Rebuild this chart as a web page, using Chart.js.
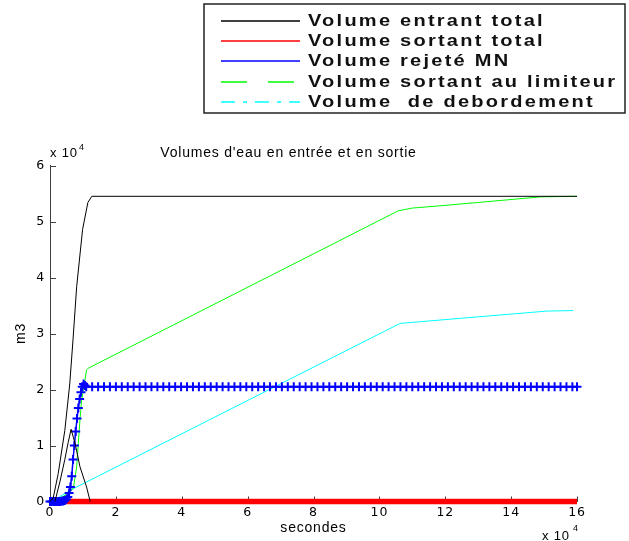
<!DOCTYPE html>
<html>
<head>
<meta charset="utf-8">
<script src="https://cdn.jsdelivr.net/npm/chart.js@4"></script>
<style>
  html, body { margin: 0; padding: 0; background: #fff; }
  #wrap { position: relative; width: 629px; height: 541px; }
</style>
</head>
<body>
<div id="wrap"><canvas id="chart"></canvas></div>
<script>
// Series names, as in the legend
const series_names = ['Volume entrant total', 'Volume sortant total', 'Volume rejeté MN',
    'Volume sortant au limiteur', 'Volume  de debordement'];
const series_colors = ['#000000', '#ff0000', '#0000ff', '#00ff00', '#00ffff'];

// Volume entrant total (cumulative) + the inflow hump drawn in black as well
const t_entrant = [0, 1000, 2500, 4500, 6000, 7000, 8100, 9900, 11500, 12700, 160000];
const v_entrant = [0, 700, 5000, 12700, 21000, 29000, 38400, 48600, 53400, 54500, 54500];
const t_hump = [1500, 3000, 4500, 5500, 6400, 7600, 9100, 11100, 12200];
const v_hump = [0, 3500, 7500, 10500, 12900, 10400, 6200, 2600, 0];

// Volume sortant total
const t_sortant = [0, 160000];
const v_sortant = [0, 0];

// Volume rejeté MN (one '+' per time step)
const t_rejet = [0, 500, 1000, 1500, 2000, 2500, 3000, 3500, 4000, 4500, 5000, 5400, 5800, 6200, 6600,
    7000, 7400, 7800, 8200, 8600, 9000, 9400, 9800, 10200, 10600, 11000,
    12800, 14600, 16400, 18200, 20000, 21800, 23600, 25400, 27200, 29000, 30800, 32600, 34400, 36200,
    38000, 39800, 41600, 43400, 45200, 47000, 48800, 50600, 52400, 54200, 56000, 57800, 59600, 61400,
    63200, 65000, 66800, 68600, 70400, 72200, 74000, 75800, 77600, 79400, 81200, 83000, 84800, 86600,
    88400, 90200, 92000, 93800, 95600, 97400, 99200, 101000, 102800, 104600, 106400, 108200, 110000,
    111800, 113600, 115400, 117200, 119000, 120800, 122600, 124400, 126200, 128000, 129800, 131600,
    133400, 135200, 137000, 138800, 140600, 142400, 144200, 146000, 147800, 149600, 151400, 153200,
    155000, 156800, 158600, 160000];
const v_rejet = [0, 0, 0, 0, 0, 0, 0, 50, 100, 200, 400, 800, 1500, 2600, 4500,
    7500, 10000, 12500, 14800, 16700, 18300, 19500, 20500, 21000, 20700, 20500,
    20500, 20500, 20500, 20500, 20500, 20500, 20500, 20500, 20500, 20500, 20500, 20500, 20500, 20500,
    20500, 20500, 20500, 20500, 20500, 20500, 20500, 20500, 20500, 20500, 20500, 20500, 20500, 20500,
    20500, 20500, 20500, 20500, 20500, 20500, 20500, 20500, 20500, 20500, 20500, 20500, 20500, 20500,
    20500, 20500, 20500, 20500, 20500, 20500, 20500, 20500, 20500, 20500, 20500, 20500, 20500,
    20500, 20500, 20500, 20500, 20500, 20500, 20500, 20500, 20500, 20500, 20500, 20500,
    20500, 20500, 20500, 20500, 20500, 20500, 20500, 20500, 20500, 20500, 20500, 20500,
    20500, 20500, 20500, 20500];

// Volume sortant au limiteur
const t_limiteur = [0, 1500, 4000, 6100, 7100, 8100, 8600, 9100, 9600, 10600, 11100, 11600,
    105700, 110000, 118400, 130000, 149000, 160000];
const v_limiteur = [0, 300, 900, 1750, 2400, 6200, 10400, 14600, 18100, 21700, 23500, 23800,
    51900, 52400, 52800, 53400, 54400, 54500];

// Volume de debordement
const t_debord = [0, 2000, 6100, 100200, 106300, 112300, 130500, 150800, 158900];
const v_debord = [0, 500, 2000, 30000, 31800, 32100, 33000, 34000, 34100];

// Axis ticks (values in m3 / seconds, shown as x 10^4)
const x_ticks = [0, 20000, 40000, 60000, 80000, 100000, 120000, 140000, 160000];
const y_ticks = [0, 10000, 20000, 30000, 40000, 50000, 60000];

const axis_color = '#404040';
const legend_dash = [[], [], [], [26, 21], [14, 8, 4, 8]];

function to_points(xs, ys) {
    return xs.map((x, i) => ({ x: x, y: ys[i] }));
}

function line_set(label, xs, ys, color, width, order) {
    return { label: label, data: to_points(xs, ys), borderColor: color, backgroundColor: color,
        borderWidth: width, pointRadius: 0, tension: 0, order: order, clip: false };
}

// MATLAB-like wide text
const spacing_plugin = {
    id: 'spacing',
    beforeLayout(chart) { chart.ctx.letterSpacing = '0.8px'; },
    beforeDraw(chart) { chart.ctx.letterSpacing = '0.8px'; }
};

// Ticks pointing into the plot
const inward_ticks = {
    id: 'inwardTicks',
    beforeDatasetsDraw(chart) {
        const { ctx, chartArea, scales: { x, y } } = chart;
        ctx.save();
        ctx.strokeStyle = axis_color;
        ctx.lineWidth = 1;
        ctx.beginPath();
        x.ticks.forEach(t => {
            const px = Math.round(x.getPixelForValue(t.value)) + 0.5;
            ctx.moveTo(px, chartArea.bottom);
            ctx.lineTo(px, chartArea.bottom - 5);
        });
        y.ticks.forEach(t => {
            const py = Math.round(y.getPixelForValue(t.value)) + 0.5;
            ctx.moveTo(chartArea.left, py);
            ctx.lineTo(chartArea.left + 6, py);
        });
        ctx.stroke();
        ctx.restore();
    }
};

// Boxed legend at the top right and the "x 10^4" multipliers
const legend_box = {
    id: 'legendBox',
    afterDraw(chart) {
        const { ctx, chartArea } = chart;
        ctx.save();
        ctx.strokeStyle = '#222';
        ctx.lineWidth = 1.5;
        ctx.strokeRect(204, 4, 421, 109);
        ctx.font = 'bold 16px Arial';
        ctx.letterSpacing = '1.8px';
        ctx.textBaseline = 'middle';
        ctx.textAlign = 'left';
        series_names.forEach((name, i) => {
            const yy = Math.round(20.5 + i * 20.4);
            ctx.strokeStyle = series_colors[i];
            ctx.lineWidth = 1.6;
            ctx.setLineDash(legend_dash[i]);
            ctx.beginPath();
            ctx.moveTo(221, yy);
            ctx.lineTo(300, yy);
            ctx.stroke();
            ctx.save();
            ctx.translate(308, yy + 0.5);
            ctx.scale(1.25, 1);
            ctx.fillStyle = '#111';
            ctx.fillText(name, 0, 0);
            ctx.restore();
        });
        ctx.setLineDash([]);
        ctx.fillStyle = '#000';
        ctx.letterSpacing = '0.8px';
        ctx.font = '13px Arial';
        ctx.fillText('x 10', chartArea.left, chartArea.top - 12);
        ctx.fillText('x 10', chartArea.right - 35, chartArea.bottom + 34.5);
        ctx.font = '9px Arial';
        ctx.fillText('4', chartArea.left + 29, chartArea.top - 18);
        ctx.fillText('4', chartArea.right - 4, chartArea.bottom + 27);
        ctx.restore();
    }
};

const datasets = [
    line_set(series_names[0], t_entrant, v_entrant, series_colors[0], 1, 0),
    line_set(series_names[1], t_sortant, v_sortant, series_colors[1], 5.5, 2),
    Object.assign(line_set(series_names[2], t_rejet, v_rejet, series_colors[2], 1.5, 1),
        { pointStyle: 'cross', pointRadius: 4.5, pointBorderWidth: 2, pointBorderColor: series_colors[2] }),
    line_set(series_names[3], t_limiteur, v_limiteur, series_colors[3], 1, 3),
    line_set(series_names[4], t_debord, v_debord, series_colors[4], 1, 4),
    line_set('', t_hump, v_hump, series_colors[0], 1, 0)
];

const tick_font = { family: 'DejaVu Sans', size: 12.5 };

const chart = new Chart(document.getElementById('chart'), {
    type: 'line',
    data: { datasets: datasets },
    options: {
        animation: false,
        responsive: true,
        maintainAspectRatio: false,
        layout: { padding: { top: 0, left: 0, right: 52, bottom: 0 } },
        plugins: {
            legend: { display: false },
            tooltip: { enabled: false },
            title: {
                display: true,
                text: "Volumes d'eau en entrée et en sortie",
                color: '#000',
                font: { family: 'Arial', size: 14, weight: 'normal' },
                padding: { top: 144.6, bottom: 4.1 }
            }
        },
        scales: {
            x: {
                type: 'linear',
                min: 0,
                max: 160000,
                afterBuildTicks: scale => { scale.ticks = x_ticks.map(v => ({ value: v })); },
                afterFit: scale => { scale.height = 39.5; },
                ticks: { callback: v => v / 10000, color: '#000', font: tick_font, padding: 4, maxRotation: 0 },
                grid: { drawOnChartArea: false, drawTicks: false },
                border: { display: true, color: axis_color },
                title: { display: true, text: 'secondes', color: '#000',
                    font: { family: 'Arial', size: 14 }, padding: { top: 0, bottom: 4.6 } }
            },
            y: {
                type: 'linear',
                min: 0,
                max: 60000,
                afterBuildTicks: scale => { scale.ticks = y_ticks.map(v => ({ value: v })); },
                afterFit: scale => { scale.width = 50; },
                ticks: { callback: v => v / 10000, color: '#000', font: tick_font, padding: 5 },
                grid: { drawOnChartArea: false, drawTicks: false },
                border: { display: true, color: axis_color },
                title: { display: true, text: 'm3', color: '#000',
                    font: { family: 'Arial', size: 14 }, padding: { top: 13.1, bottom: 0 } }
            }
        }
    },
    plugins: [spacing_plugin, inward_ticks, legend_box]
});
</script>
</body>
</html>
